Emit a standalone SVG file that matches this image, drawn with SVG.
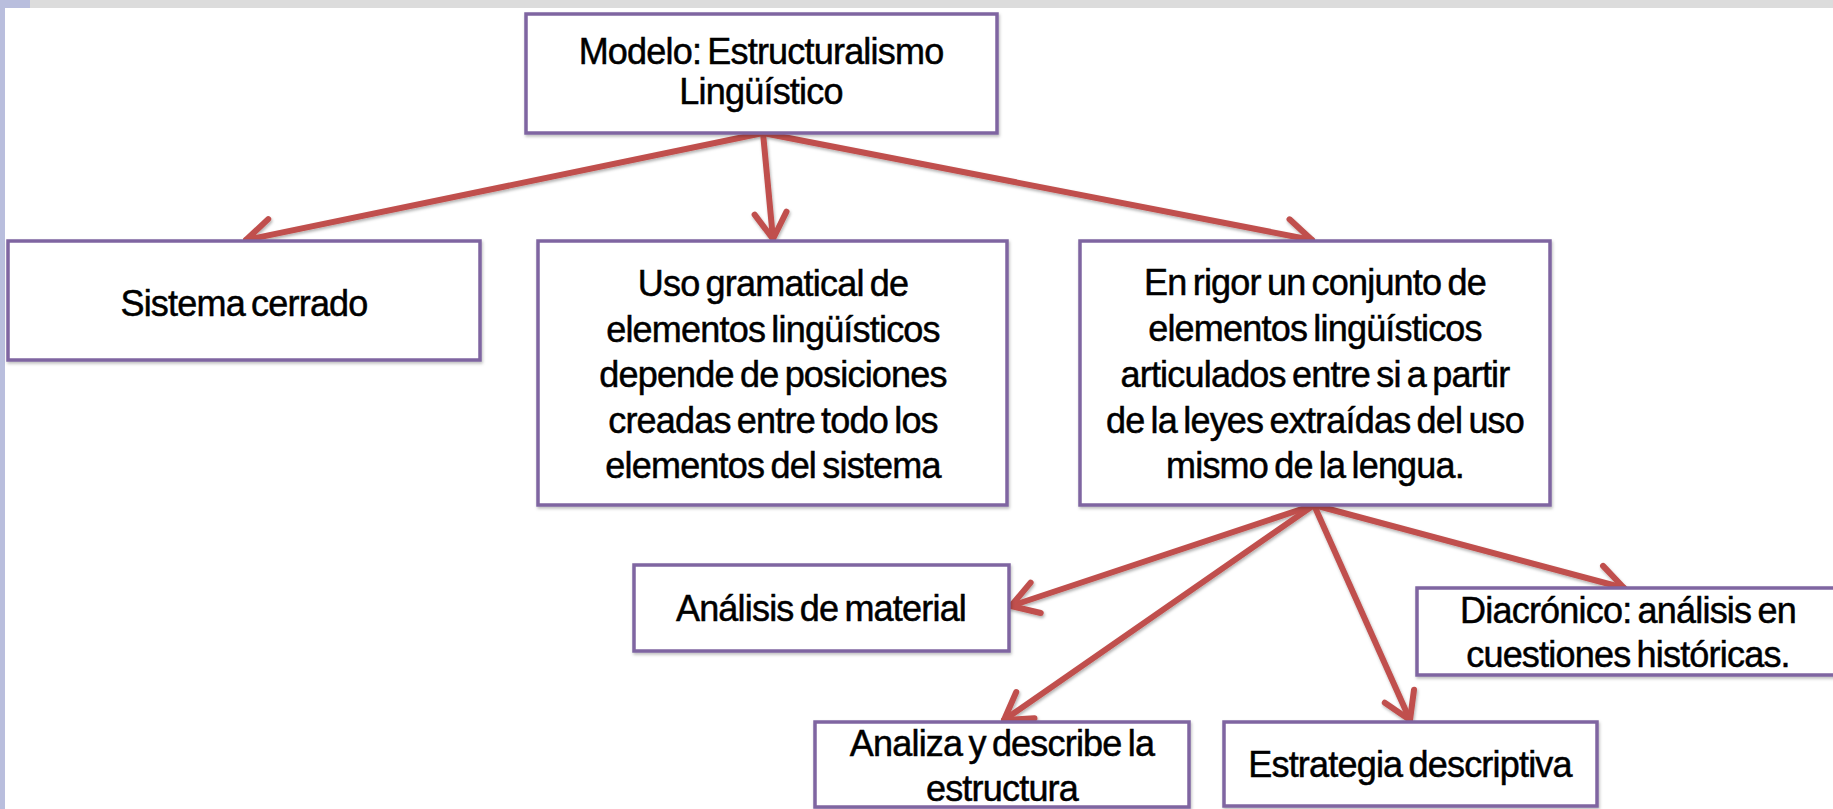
<svg xmlns="http://www.w3.org/2000/svg" width="1833" height="809" viewBox="0 0 1833 809">
  <style>
    .box { fill: #ffffff; stroke: #7f65a1; stroke-width: 3.5; }
    .lbl { font-family: "Liberation Sans", Arial, sans-serif; font-size: 36px; letter-spacing: -0.8px; word-spacing: -3px; fill: #000000; stroke: #000000; stroke-width: 0.5px; text-anchor: middle; }
    .conn { stroke: #c0504d; stroke-width: 6; fill: none; stroke-linecap: round; }
  </style>
  <defs>
    <marker id="arrow" markerUnits="userSpaceOnUse" viewBox="-34 -22 38 44" refX="0" refY="0" markerWidth="38" markerHeight="44" orient="auto" overflow="visible">
      <path d="M-26,-16 L0,0 L-26,16" fill="none" stroke="#c0504d" stroke-width="6" stroke-linecap="round" stroke-linejoin="round"/>
    </marker>
    <filter id="sh" x="-5%" y="-5%" width="110%" height="120%">
      <feDropShadow dx="1" dy="2" stdDeviation="1.5" flood-color="#000000" flood-opacity="0.25"/>
    </filter>
    <filter id="ash" x="-10%" y="-10%" width="120%" height="120%">
      <feDropShadow dx="1" dy="2" stdDeviation="1.5" flood-color="#000000" flood-opacity="0.3"/>
    </filter>
  </defs>

  <rect x="0" y="0" width="1833" height="809" fill="#ffffff"/>
  <rect x="30" y="0" width="1803" height="8" fill="#dcdcdc"/>
  <rect x="0" y="0" width="30" height="8" fill="#b9bedd"/>
  <rect x="0" y="0" width="5" height="809" fill="#b9bedd"/>

  <g id="connectors" filter="url(#ash)">
    <line class="conn" x1="763" y1="133" x2="246" y2="240" marker-end="url(#arrow)"/>
    <line class="conn" x1="763" y1="133" x2="773" y2="239" marker-end="url(#arrow)"/>
    <line class="conn" x1="763" y1="133" x2="1312" y2="240" marker-end="url(#arrow)"/>
    <line class="conn" x1="1314" y1="505" x2="1011" y2="606" marker-end="url(#arrow)"/>
    <line class="conn" x1="1314" y1="505" x2="1004" y2="720" marker-end="url(#arrow)"/>
    <line class="conn" x1="1314" y1="505" x2="1410" y2="720" marker-end="url(#arrow)"/>
    <line class="conn" x1="1314" y1="505" x2="1624" y2="588" marker-end="url(#arrow)"/>
  </g>

  <g id="node-modelo">
    <rect class="box" x="526" y="14" width="471" height="119" filter="url(#sh)"/>
    <text class="lbl" x="761" y="64">Modelo: Estructuralismo</text>
    <text class="lbl" x="761" y="104">Lingüístico</text>
  </g>

  <g id="node-sistema">
    <rect class="box" x="8" y="241" width="472" height="119" filter="url(#sh)"/>
    <text class="lbl" x="244" y="316">Sistema cerrado</text>
  </g>

  <g id="node-uso">
    <rect class="box" x="538" y="241" width="469" height="264" filter="url(#sh)"/>
    <text class="lbl" x="773" y="296">Uso gramatical de</text>
    <text class="lbl" x="773" y="342">elementos lingüísticos</text>
    <text class="lbl" x="773" y="387">depende de posiciones</text>
    <text class="lbl" x="773" y="433">creadas entre todo los</text>
    <text class="lbl" x="773" y="478">elementos del sistema</text>
  </g>

  <g id="node-rigor">
    <rect class="box" x="1080" y="241" width="470" height="264" filter="url(#sh)"/>
    <text class="lbl" x="1315" y="295">En rigor un conjunto de</text>
    <text class="lbl" x="1315" y="341">elementos lingüísticos</text>
    <text class="lbl" x="1315" y="387">articulados entre si a partir</text>
    <text class="lbl" x="1315" y="433">de la leyes extraídas del uso</text>
    <text class="lbl" x="1315" y="478">mismo de la lengua.</text>
  </g>

  <g id="node-analisis">
    <rect class="box" x="634" y="565" width="375" height="86" filter="url(#sh)"/>
    <text class="lbl" x="821" y="621">Análisis de material</text>
  </g>

  <g id="node-analiza">
    <rect class="box" x="815" y="722" width="374" height="85" filter="url(#sh)"/>
    <text class="lbl" x="1002" y="756">Analiza y describe la</text>
    <text class="lbl" x="1002" y="801">estructura</text>
  </g>

  <g id="node-estrategia">
    <rect class="box" x="1224" y="722" width="373" height="84" filter="url(#sh)"/>
    <text class="lbl" x="1410" y="777">Estrategia descriptiva</text>
  </g>

  <g id="node-diacronico">
    <rect class="box" x="1417" y="588" width="430" height="87" filter="url(#sh)"/>
    <text class="lbl" x="1628" y="623">Diacrónico: análisis en</text>
    <text class="lbl" x="1628" y="667">cuestiones históricas.</text>
  </g>
</svg>
